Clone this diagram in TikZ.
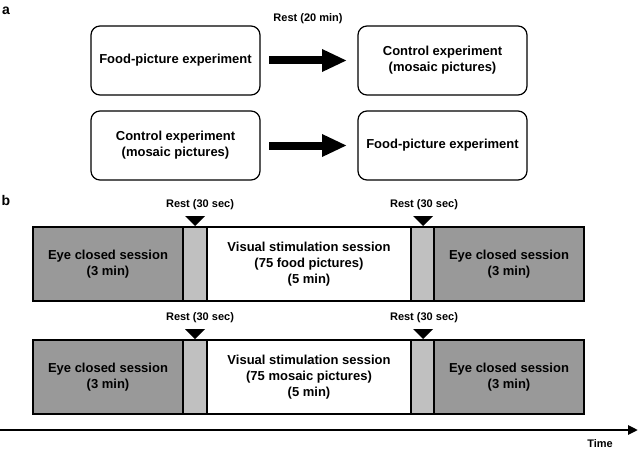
\documentclass[tikz,border=0pt]{standalone}
\usepackage{fontspec}
\setmainfont{Liberation Sans}
\usetikzlibrary{arrows.meta}

\definecolor{eyegray}{RGB}{153,153,153}
\definecolor{restgray}{RGB}{192,192,192}

\tikzset{
  expbox/.style={draw, line width=1.2pt, rounded corners=9pt, minimum width=169pt,
    minimum height=69pt, align=center, outer sep=0pt,
    font=\bfseries\fontsize{13}{16}\selectfont},
  session/.style={draw, line width=1.2pt, minimum height=74pt, anchor=north west,
    align=center, inner sep=0pt, outer sep=0pt,
    font=\bfseries\fontsize{13}{16}\selectfont},
  eyebox/.style={session, fill=eyegray, minimum width=150pt},
  restbox/.style={session, fill=restgray, minimum width=24pt},
  visbox/.style={session, fill=white, minimum width=204pt},
  small/.style={font=\bfseries\fontsize{11}{13}\selectfont},
  panel/.style={font=\bfseries\fontsize{14}{16}\selectfont},
  bigarrow/.style={line width=8pt, -{Triangle[length=25pt,width=21pt]}},
}

\begin{document}
\begin{tikzpicture}[x=1pt,y=-1pt]
\useasboundingbox (0,0) rectangle (638,452);

% panel a
\node[panel] (pa) at (6,11) {a};
\node[expbox] (fp1) at (175.5,60.5) {Food-picture experiment};
\node[expbox] (ce1) at (442.5,60.5) {Control experiment\\(mosaic pictures)};
\node[expbox] (ce2) at (175.5,145.5) {Control experiment\\(mosaic pictures)};
\node[expbox] (fp2) at (442.5,145.5) {Food-picture experiment};
\node[small] (rest20) at (308,19) {Rest (20 min)};
\draw[bigarrow, shorten <=9pt, shorten >=11pt] (fp1) -- (ce1);
\draw[bigarrow, shorten <=9pt, shorten >=11pt] (ce2) -- (fp2);

% panel b
\node[panel] (pb) at (6,200) {b};

% food row
\node[eyebox] (e1) at (33,227) {Eye closed session\\(3 min)};
\node[restbox] (r1) at (183,227) {};
\node[visbox] (v1) at (207,227) {Visual stimulation session\\(75 food pictures)\\(5 min)};
\node[restbox] (r2) at (411,227) {};
\node[eyebox] (e2) at (434,227) {Eye closed session\\(3 min)};
\node[small] (l1) at (200,205) {Rest (30 sec)};
\node[small] (l2) at (424,205) {Rest (30 sec)};
\fill ([yshift=1pt]r1.north) -- ++(-10,-10) -- ++(20,0) -- cycle;
\fill ([yshift=1pt]r2.north) -- ++(-10,-10) -- ++(20,0) -- cycle;

% mosaic row
\node[eyebox] (e3) at (33,340) {Eye closed session\\(3 min)};
\node[restbox] (r3) at (183,340) {};
\node[visbox] (v2) at (207,340) {Visual stimulation session\\(75 mosaic pictures)\\(5 min)};
\node[restbox] (r4) at (411,340) {};
\node[eyebox] (e4) at (434,340) {Eye closed session\\(3 min)};
\node[small] (l3) at (200,318) {Rest (30 sec)};
\node[small] (l4) at (424,318) {Rest (30 sec)};
\fill ([yshift=1pt]r3.north) -- ++(-10,-10) -- ++(20,0) -- cycle;
\fill ([yshift=1pt]r4.north) -- ++(-10,-10) -- ++(20,0) -- cycle;

% time axis
\coordinate (t0) at (0,430);
\coordinate (t1) at (638,430);
\draw[line width=2.5pt, -{Triangle[length=10pt,width=9pt]}] (t0) -- (t1);
\node[small] (time) at (600,444) {Time};
\end{tikzpicture}
\end{document}
